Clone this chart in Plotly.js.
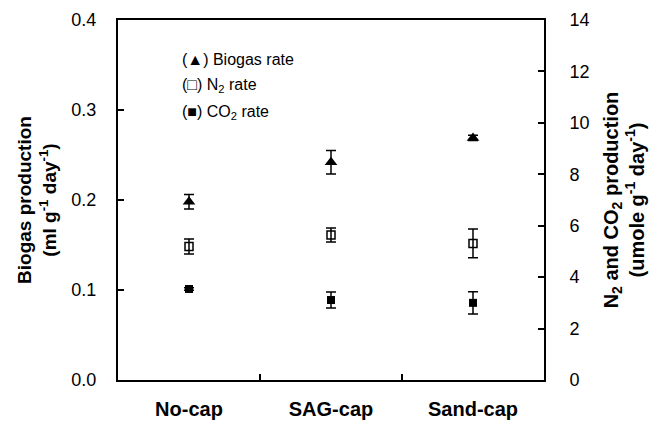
<!DOCTYPE html>
<html>
<head>
<meta charset="utf-8">
<script src="https://cdn.plot.ly/plotly-3.0.1.min.js"></script>
<style>html,body{margin:0;padding:0;background:#fff;}#chart{width:649px;height:422px;}</style>
</head>
<body>
<div id="chart"></div>
<script>
const categories = ["No-cap", "SAG-cap", "Sand-cap"];
const biogasRate = [0.198, 0.242, 0.269];
const biogasErr = [0.008, 0.013, 0.003];
const n2Rate = [5.19, 5.64, 5.31];
const n2Err = [0.29, 0.27, 0.56];
const co2Rate = [3.54, 3.11, 3.00];
const co2Err = [0.05, 0.31, 0.43];
const leftTicks = [0, 0.1, 0.2, 0.3, 0.4];
const rightTicks = [0, 2, 4, 6, 8, 10, 12, 14];

const errStyle = {type: 'data', visible: true, color: '#000', thickness: 1.5, width: 5};
const traces = [
  {x: categories, y: biogasRate, type: 'scatter', mode: 'markers', name: 'Biogas rate',
   marker: {symbol: 'triangle-up', size: 11, color: '#000'},
   error_y: Object.assign({array: biogasErr}, errStyle), yaxis: 'y'},
  {x: categories, y: n2Rate, type: 'scatter', mode: 'markers', name: 'N2 rate',
   marker: {symbol: 'square-open', size: 8, color: '#000', line: {width: 1.5}},
   error_y: Object.assign({array: n2Err}, errStyle), yaxis: 'y2'},
  {x: categories, y: co2Rate, type: 'scatter', mode: 'markers', name: 'CO2 rate',
   marker: {symbol: 'square', size: 8, color: '#000'},
   error_y: Object.assign({array: co2Err}, errStyle), yaxis: 'y2'}
];

const layout = {
  width: 649, height: 422,
  margin: {l: 118, r: 105, t: 20, b: 42},
  paper_bgcolor: '#fff', plot_bgcolor: '#fff',
  showlegend: false,
  font: {family: 'Liberation Sans, Arial, sans-serif', color: '#000', size: 17},
  xaxis: {type: 'category', range: [-0.5, 2.5], tickson: 'boundaries', ticks: 'inside',
    ticklen: 6, tickwidth: 2, tickcolor: '#000', showline: true, linewidth: 2, linecolor: '#000',
    mirror: true, showgrid: false, zeroline: false, ticklabelstandoff: 10,
    tickfont: {size: 20, weight: 'bold'}},
  yaxis: {range: [0, 0.4], tickvals: leftTicks, tickformat: '.1f', ticks: 'inside', ticklen: 6,
    tickwidth: 2, tickcolor: '#000', showline: true, linewidth: 2, linecolor: '#000',
    showgrid: false, zeroline: false, ticklabelstandoff: 16, tickfont: {size: 18},
    title: {text: '<b>Biogas production<br>(ml g<sup>-1</sup> day<sup>-1</sup>)</b>', font: {size: 19}, standoff: 10}},
  yaxis2: {range: [0, 14], tickvals: rightTicks, overlaying: 'y', side: 'right', ticks: 'inside',
    ticklen: 6, tickwidth: 2, tickcolor: '#000', showline: true, linewidth: 2, linecolor: '#000',
    showgrid: false, zeroline: false, ticklabelstandoff: 20, tickfont: {size: 18},
    title: {text: '<b>N<sub>2</sub> and CO<sub>2</sub> production<br>(umole g<sup>-1</sup> day<sup>-1</sup>)</b>', font: {size: 20}, standoff: 15}},
  annotations: [
    {xref: 'paper', yref: 'paper', x: 0.146, y: 0.889, xanchor: 'left', yanchor: 'middle', showarrow: false,
     text: '(▲) Biogas rate', font: {size: 16}},
    {xref: 'paper', yref: 'paper', x: 0.146, y: 0.819, xanchor: 'left', yanchor: 'middle', showarrow: false,
     text: '(□) N<sub>2</sub> rate', font: {size: 16}},
    {xref: 'paper', yref: 'paper', x: 0.146, y: 0.744, xanchor: 'left', yanchor: 'middle', showarrow: false,
     text: '(■) CO<sub>2</sub> rate', font: {size: 16}}
  ]
};
Plotly.newPlot('chart', traces, layout, {displayModeBar: false, staticPlot: true});
</script>
</body>
</html>
